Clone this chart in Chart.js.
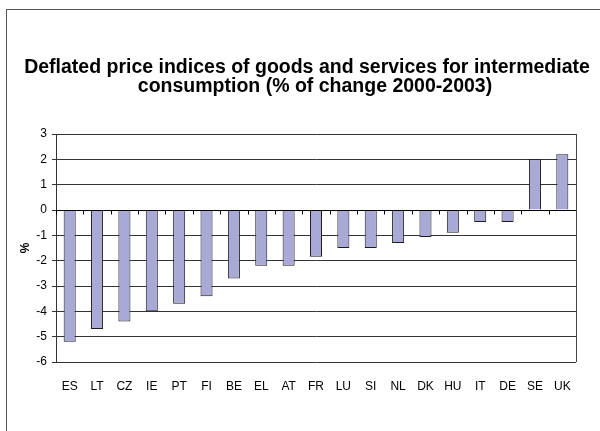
<!DOCTYPE html>
<html>
<head>
<meta charset="utf-8">
<script src="https://cdn.jsdelivr.net/npm/chart.js@4"></script>
<style>
  body { margin: 0; background: #fff; overflow: hidden; }
  #wrap { position: relative; width: 600px; height: 431px; }
  #frame { position: absolute; left: 6px; top: 9px; width: 620px; height: 500px; border: 1px solid #555; }
</style>
</head>
<body>
<div id="wrap">
  <div id="frame"></div>
  <canvas id="chart" width="600" height="431"></canvas>
</div>
<script>
// data
const countries = ["ES", "LT", "CZ", "IE", "PT", "FI", "BE", "EL", "AT", "FR", "LU", "SI", "NL", "DK", "HU", "IT", "DE", "SE", "UK"];
const changes = [-5.2, -4.7, -4.4, -4.0, -3.7, -3.4, -2.7, -2.2, -2.2, -1.85, -1.5, -1.5, -1.3, -1.07, -0.9, -0.47, -0.47, 2.0, 2.2];
const yTicks = [3, 2, 1, 0, -1, -2, -3, -4, -5, -6];
const titleLines = ["Deflated price indices of goods and services for intermediate", "consumption (% of change 2000-2003)"];

const FONT = "'Liberation Sans', Arial, sans-serif";

// title and zero axis with its tick marks, Excel style
const extras = {
  id: "extras",
  afterDatasetsDraw(chart) {
    const ctx = chart.ctx;
    const area = chart.chartArea;
    const x = chart.scales.x;
    const y = chart.scales.y;
    const y0 = Math.round(y.getPixelForValue(0)) + 0.5;
    const step = (area.right - area.left) / countries.length;
    ctx.save();
    ctx.strokeStyle = "#000";
    ctx.lineWidth = 1;
    ctx.beginPath();
    ctx.moveTo(area.left, y0);
    ctx.lineTo(area.right, y0);
    for (let i = 0; i <= countries.length; i++) {
      const px = Math.round(x.getPixelForValue(i) - step / 2) + 0.5;
      ctx.moveTo(px, y0);
      ctx.lineTo(px, y0 + 4);
    }
    ctx.stroke();
    // plot frame right side
    ctx.strokeStyle = "#444";
    ctx.beginPath();
    ctx.moveTo(Math.round(area.right) + 0.5, area.top);
    ctx.lineTo(Math.round(area.right) + 0.5, area.bottom);
    ctx.stroke();
    ctx.restore();
  },
  afterDraw(chart) {
    const ctx = chart.ctx;
    ctx.save();
    ctx.fillStyle = "#000";
    ctx.font = "bold 19.5px " + FONT;
    ctx.textAlign = "center";
    ctx.textBaseline = "alphabetic";
    ctx.fillText(titleLines[0], 307, 73);
    ctx.fillText(titleLines[1], 315, 92);
    ctx.restore();
  }
};

new Chart(document.getElementById("chart").getContext("2d"), {
  type: "bar",
  data: {
    labels: countries,
    datasets: [{
      data: changes,
      backgroundColor: "#a9a9d6",
      borderColor: "#1a1a1a",
      borderWidth: 1,
      barPercentage: 0.44,
      categoryPercentage: 1
    }]
  },
  options: {
    responsive: false,
    animation: false,
    layout: { padding: { top: 134, left: 16, right: 24, bottom: 29 } },
    plugins: { legend: { display: false }, tooltip: { enabled: false } },
    scales: {
      x: {
        grid: { display: false },
        border: { display: false },
        ticks: { color: "#000", font: { family: FONT, size: 12 }, padding: 9, maxRotation: 0, autoSkip: false },
        afterFit(scale) { scale.height = 40; }
      },
      y: {
        min: -6,
        max: 3,
        afterBuildTicks(scale) { scale.ticks = yTicks.map(v => ({ value: v })); },
        grid: { color: "#333", tickLength: 4 },
        border: { color: "#333" },
        ticks: { color: "#000", font: { family: FONT, size: 12 }, padding: 5 },
        title: { display: true, text: "%", color: "#000", font: { family: FONT, size: 12, weight: "bold" }, padding: 2 },
        afterFit(scale) { scale.width = 40; }
      }
    }
  },
  plugins: [extras]
});
</script>
</body>
</html>
